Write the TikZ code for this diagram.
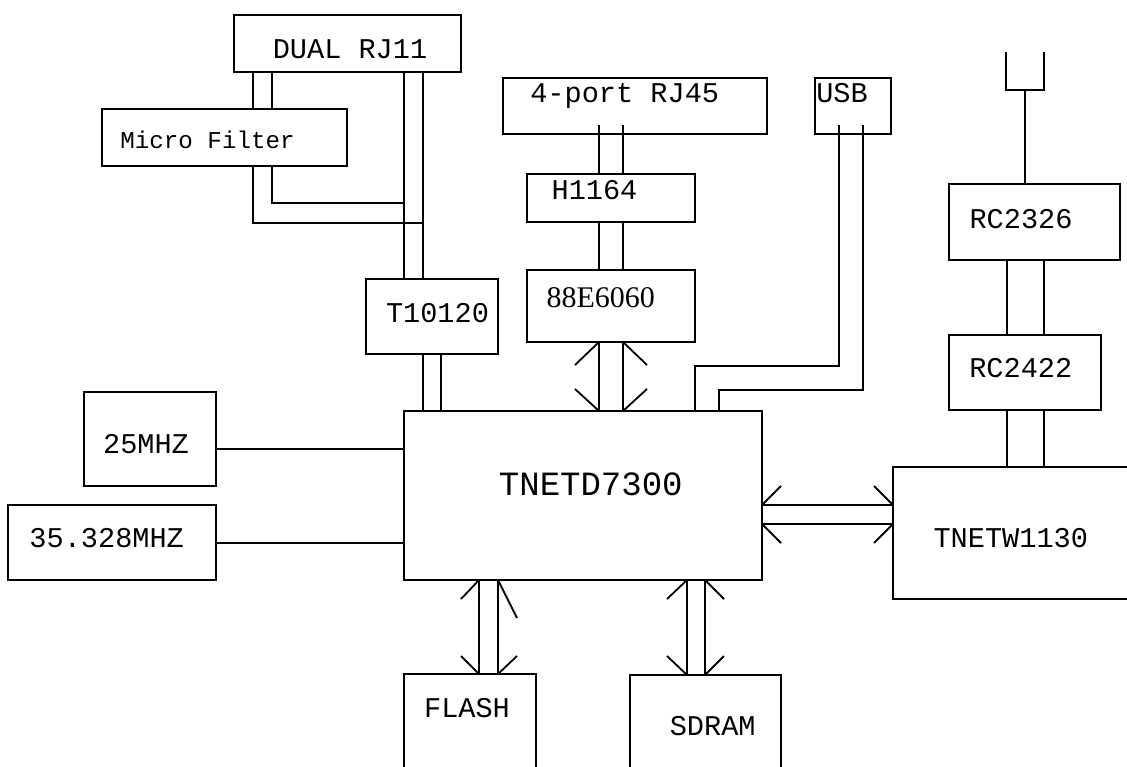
\documentclass[tikz,border=0pt]{standalone}
\usepackage{fontspec}
\newfontfamily\monof{Liberation Mono}
\newfontfamily\seriff{Liberation Serif}
\newcommand\mybox[5]{\node[blk, minimum width={#4-#2}, minimum height={#5-#3}] (#1) at ({(#2+#4)/2},{(#3+#5)/2}) {};}
\tikzset{
  blk/.style={draw, line width=1.8pt, inner sep=0pt, outer sep=0pt},
  wire/.style={line width=1.8pt},
  lbl/.style={inner sep=0pt, anchor=base, font=\monof\fontsize{28.6}{30}\selectfont},
}
\begin{document}
\begin{tikzpicture}[x=1pt,y=-1pt]
\useasboundingbox (0,0) rectangle (1127,766);
\clip (0,0) rectangle (1127,766);
\fill[white] (0,0) rectangle (1127,766);
% boxes
\mybox{dual}{234}{15}{461}{72}
\mybox{micro}{102}{109}{347}{166}
\mybox{rj45}{503}{78}{767}{134}
\mybox{usb}{815}{78}{891}{134}
\mybox{h1164}{527}{174}{695}{222}
\mybox{e6060}{527}{270}{695}{342}
\mybox{t10120}{366}{279}{498}{354}
\mybox{tnetd}{404}{411}{762}{580}
\mybox{c25}{84}{392}{216}{486}
\mybox{c35}{8}{505}{216}{580}
\mybox{flash}{404}{674}{536}{790}
\mybox{sdram}{630}{675}{781}{790}
\mybox{tnetw}{893}{467}{1150}{599}
\mybox{rc2326}{949}{184}{1120}{260}
\mybox{rc2422}{949}{335}{1101}{410}
% labels
\node[lbl] (tdual) at (350,58) {DUAL RJ11};
\node[lbl, font=\monof\fontsize{24.2}{26}\selectfont] (tmicro) at (207.5,148) {Micro Filter};
\node[lbl] (trj45) at (624.7,102) {4-port RJ45};
\node[lbl] (tusb) at (842,102) {USB};
\node[lbl] (th1164) at (594.5,199) {H1164};
\node[lbl, font=\seriff\fontsize{30}{32}\selectfont] (te6060) at (600.8,307) {88E6060};
\node[lbl] (tt10120) at (437.5,322) {T10120};
\node[lbl, font=\monof\fontsize{34}{36}\selectfont] (ttnetd) at (590.8,495) {TNETD7300};
\node[lbl] (tc25) at (146,453) {25MHZ};
\node[lbl] (tc35) at (106.7,547) {35.328MHZ};
\node[lbl] (tflash) at (467,717) {FLASH};
\node[lbl] (tsdram) at (712.7,735) {SDRAM};
\node[lbl] (ttnetw) at (1010.8,547) {TNETW1130};
\node[lbl] (trc2326) at (1021,228) {RC2326};
\node[lbl] (trc2422) at (1020.8,377) {RC2422};
% helper coordinates
\coordinate (x253) at (253,0);
\coordinate (x272) at (272,0);
\coordinate (x404) at (404,0);
\coordinate (x423) at (423,0);
\coordinate (x441) at (441,0);
\coordinate (x599) at (599,0);
\coordinate (x623) at (623,0);
\coordinate (x695) at (695,0);
\coordinate (x719) at (719,0);
\coordinate (x839) at (839,0);
\coordinate (x863) at (863,0);
\coordinate (x479) at (479,0);
\coordinate (x498) at (498,0);
\coordinate (x687) at (687,0);
\coordinate (x705) at (705,0);
\coordinate (x1007) at (1007,0);
\coordinate (x1025) at (1025,0);
\coordinate (x1044) at (1044,0);
\coordinate (y203) at (0,203);
\coordinate (y223) at (0,223);
\coordinate (y366) at (0,366);
\coordinate (y390) at (0,390);
\coordinate (y449) at (0,449);
\coordinate (y543) at (0,543);
\coordinate (y505) at (0,505);
\coordinate (y524) at (0,524);
\coordinate (antL) at (1006,52);
\coordinate (antR) at (1044,52);
\coordinate (antB) at (1025,90);
% dual RJ11 <-> micro filter
\draw[wire] (x253 |- dual.south) -- (x253 |- micro.north);
\draw[wire] (x272 |- dual.south) -- (x272 |- micro.north);
\draw[wire] (x253 |- micro.south) -- (x253 |- y223) -- (x423 |- y223);
\draw[wire] (x272 |- micro.south) -- (x272 |- y203) -- (x404 |- y203);
\draw[wire] (x404 |- dual.south) -- (x404 |- t10120.north);
\draw[wire] (x423 |- dual.south) -- (x423 |- t10120.north);
% T10120 -> TNETD7300
\draw[wire] (x423 |- t10120.south) -- (x423 |- tnetd.north);
\draw[wire] (x441 |- t10120.south) -- (x441 |- tnetd.north);
% RJ45 -> H1164 -> 88E6060
\draw[wire] ([yshift=9pt]x599 |- rj45.south) -- (x599 |- h1164.north);
\draw[wire] ([yshift=9pt]x623 |- rj45.south) -- (x623 |- h1164.north);
\draw[wire] (x599 |- h1164.south) -- (x599 |- e6060.north);
\draw[wire] (x623 |- h1164.south) -- (x623 |- e6060.north);
% 88E6060 <-> TNETD7300
\draw[wire] (x599 |- e6060.south) -- (x599 |- tnetd.north);
\draw[wire] (x623 |- e6060.south) -- (x623 |- tnetd.north);
\draw[wire] (x599 |- e6060.south) -- ++(-24,23);
\draw[wire] (x623 |- e6060.south) -- ++(24,23);
\draw[wire] (x599 |- tnetd.north) -- ++(-24,-22);
\draw[wire] (x623 |- tnetd.north) -- ++(24,-22);
% USB -> TNETD7300
\draw[wire] ([yshift=9pt]x839 |- usb.south) -- (x839 |- y366) -- (x695 |- y366) -- (x695 |- tnetd.north);
\draw[wire] ([yshift=9pt]x863 |- usb.south) -- (x863 |- y390) -- (x719 |- y390) -- (x719 |- tnetd.north);
% crystals
\draw[wire] (c25.east |- y449) -- (tnetd.west |- y449);
\draw[wire] (c35.east |- y543) -- (tnetd.west |- y543);
% TNETD7300 <-> TNETW1130
\draw[wire] (tnetd.east |- y505) -- (tnetw.west |- y505);
\draw[wire] (tnetd.east |- y524) -- (tnetw.west |- y524);
\draw[wire] (tnetd.east |- y505) -- ++(19,-19);
\draw[wire] (tnetd.east |- y524) -- ++(19,19);
\draw[wire] (tnetw.west |- y505) -- ++(-19,-19);
\draw[wire] (tnetw.west |- y524) -- ++(-19,19);
% FLASH
\draw[wire] (x479 |- tnetd.south) -- (x479 |- flash.north);
\draw[wire] (x498 |- tnetd.south) -- (x498 |- flash.north);
\draw[wire] (x479 |- tnetd.south) -- ++(-18,19);
\draw[wire] (x498 |- tnetd.south) -- ++(19,38);
\draw[wire] (x479 |- flash.north) -- ++(-18,-18);
\draw[wire] (x498 |- flash.north) -- ++(19,-18);
% SDRAM
\draw[wire] (x687 |- tnetd.south) -- (x687 |- sdram.north);
\draw[wire] (x705 |- tnetd.south) -- (x705 |- sdram.north);
\draw[wire] (x687 |- tnetd.south) -- ++(-20,19);
\draw[wire] (x705 |- tnetd.south) -- ++(19,19);
\draw[wire] (x687 |- sdram.north) -- ++(-20,-19);
\draw[wire] (x705 |- sdram.north) -- ++(19,-19);
% radio chain
\draw[wire] (x1007 |- rc2326.south) -- (x1007 |- rc2422.north);
\draw[wire] (x1044 |- rc2326.south) -- (x1044 |- rc2422.north);
\draw[wire] (x1007 |- rc2422.south) -- (x1007 |- tnetw.north);
\draw[wire] (x1044 |- rc2422.south) -- (x1044 |- tnetw.north);
% antenna
\draw[wire] (antL) -- (antL |- antB) -- (antR |- antB) -- (antR);
\draw[wire] (antB) -- (x1025 |- rc2326.north);
\end{tikzpicture}
\end{document}
